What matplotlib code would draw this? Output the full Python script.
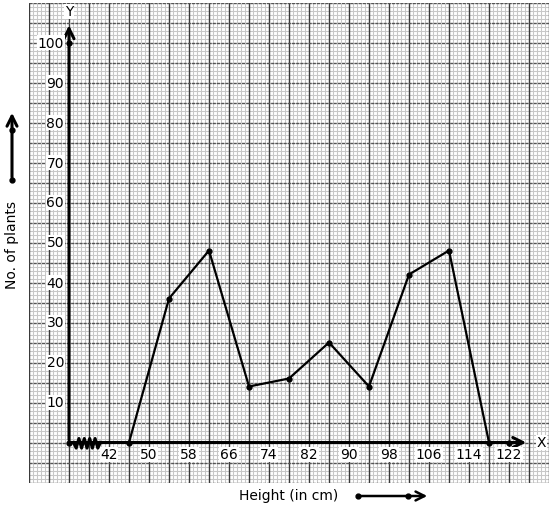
import matplotlib
matplotlib.use("Agg")
import matplotlib.pyplot as plt
import numpy as np

heights = [46, 54, 62, 70, 78, 86, 94, 102, 110, 118]
plants = [0, 36, 48, 14, 16, 25, 14, 42, 48, 0]
x_ticks = [42, 50, 58, 66, 74, 82, 90, 98, 106, 114, 122]
y_ticks = [10, 20, 30, 40, 50, 60, 70, 80, 90, 100]

X0 = 34  # x-value placed at the origin (axis break)
xmin, xmax = 26, 130
ymin, ymax = -10, 110

fig = plt.figure(figsize=(5.54, 5.10), dpi=100)
W, H = 554, 510
ax = fig.add_axes([29 / W, (H - 483.5) / H, (549 - 29) / W, (483.5 - 3.5) / H])
ax.set_xlim(xmin, xmax)
ax.set_ylim(ymin, ymax)
ax.set_axis_off()

# graph paper
for v in np.arange(xmin, xmax + 0.01, 0.8):
    ax.axvline(v, color="#c8c8c8", lw=0.75, zorder=0)
for v in np.arange(ymin, ymax + 0.01, 1):
    ax.axhline(v, color="#c8c8c8", lw=0.75, zorder=0)
for v in np.arange(xmin, xmax + 0.01, 4):
    ax.axvline(v, color="#3a3a3a", lw=1.0, zorder=1)
for v in np.arange(ymin, ymax + 0.01, 5):
    ax.axhline(v, color="#555555", lw=1.0, ls=(0, (2.2, 0.8)), zorder=1)

# axes with arrows
ax.annotate("", xy=(126, 0), xytext=(X0, 0),
            arrowprops=dict(arrowstyle="->", lw=2.2, color="black", mutation_scale=18), zorder=5)
ax.annotate("", xy=(X0, 105), xytext=(X0, 0),
            arrowprops=dict(arrowstyle="->", lw=2.2, color="black", mutation_scale=18), zorder=5)
ax.text(127.5, 0, "X", ha="left", va="center", fontsize=10,
        bbox=dict(facecolor="white", edgecolor="none", pad=0.5), zorder=6)
ax.text(X0, 107.8, "Y", ha="center", va="center", fontsize=10,
        bbox=dict(facecolor="white", edgecolor="none", pad=0.3), zorder=6)
ax.plot([X0, X0], [0, 100], "o", color="black", ms=3.5, zorder=6)

# zigzag break
zx = np.linspace(34.9, 40.3, 11)
zy = np.array([0, -1.4, 1.0, -1.4, 1.0, -1.4, 1.0, -1.4, 1.0, -1.4, 0])
ax.plot(zx, zy, color="black", lw=2.2, zorder=6)

# tick labels
for t in x_ticks:
    ax.text(t, -3, str(t), ha="center", va="center", fontsize=10,
            bbox=dict(facecolor="white", edgecolor="none", pad=0.5), zorder=6)
for t in y_ticks:
    ax.text(X0 - 1.0, t, str(t), ha="right", va="center", fontsize=10,
            bbox=dict(facecolor="white", edgecolor="none", pad=0.5), zorder=6)

# data
ax.plot(heights, plants, "-o", color="black", lw=1.6, ms=3.5, zorder=7)
ax.plot([122], [0], "o", color="black", ms=3.5, zorder=7)

# outer labels and arrows
fig.text(12 / W, 1 - 245 / H, "No. of plants", rotation=90, ha="center", va="center", fontsize=10)
fig.text(289 / W, 1 - 496 / H, "Height (in cm)", ha="center", va="center", fontsize=10)
fig.patches.append(matplotlib.patches.FancyArrowPatch(
    (12 / W, 1 - 181 / H), (12 / W, 1 - 111 / H), transform=fig.transFigure,
    arrowstyle="->", lw=2.2, color="black", mutation_scale=18))
fig.patches.append(matplotlib.patches.FancyArrowPatch(
    (358 / W, 1 - 497 / H), (430 / W, 1 - 497 / H), transform=fig.transFigure,
    arrowstyle="->", lw=1.8, color="black", mutation_scale=16))
fig.lines.append(matplotlib.lines.Line2D([12 / W, 12 / W], [1 - 181 / H, 1 - 131 / H],
                                         transform=fig.transFigure, ls="none", marker="o",
                                         color="black", ms=3.5))
fig.lines.append(matplotlib.lines.Line2D([358 / W, 408 / W], [1 - 497 / H, 1 - 497 / H],
                                         transform=fig.transFigure, ls="none", marker="o",
                                         color="black", ms=3.5))

fig.savefig("out.png", dpi=100, facecolor="white")
